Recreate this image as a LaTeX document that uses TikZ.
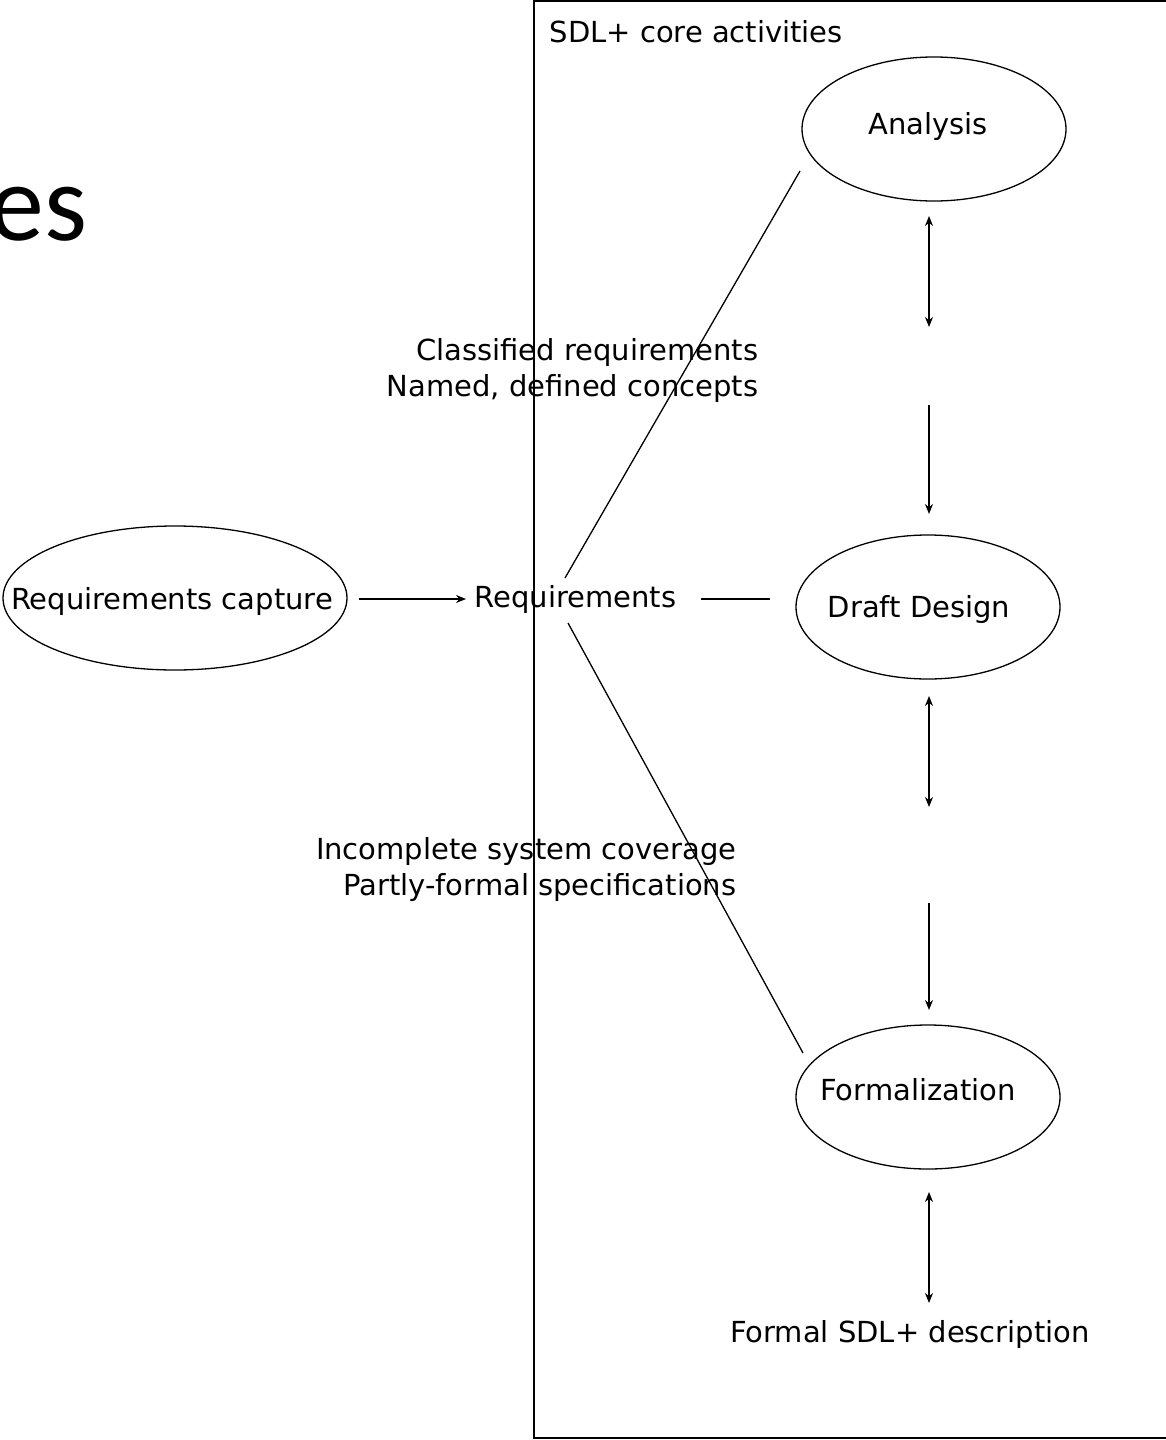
\documentclass[tikz,border=0pt]{standalone}
\usepackage{fontspec}
\setmainfont{DejaVu Sans}
\newfontfamily\titlefont{Carlito}
\usetikzlibrary{arrows.meta,shapes.geometric}
\begin{document}
\begin{tikzpicture}[x=1pt,y=-1pt,
  every path/.style={line width=1.3pt},
  lbl/.style={inner sep=0pt,font=\fontsize{29}{36}\selectfont},
  act/.style={draw,ellipse,inner sep=0pt,minimum width=264pt,minimum height=144pt},
  tip/.style={-{Stealth[length=10pt,width=8pt]}},
  dtip/.style={{Stealth[length=10pt,width=8pt]}-{Stealth[length=10pt,width=8pt]}}]
\useasboundingbox (0,0) rectangle (1166,1440);
\fill[white] (0,0) rectangle (1166,1440);

% partial slide title
\node[inner sep=0pt,anchor=base east,font=\titlefont\fontsize{110}{120}\selectfont] (title) at (88,240) {es};

% frame of the core activities
\draw (534,1) rectangle (1200,1438);
\node[lbl,anchor=base west] (core) at (549,42) {SDL+ core activities};

% activities
\node[act,minimum width=344pt] (capture) at (175,598) {};
\node[lbl,anchor=base] at (172,609) {Requirements capture};
\node[act] (analysis) at (934,129) {};
\node[lbl,anchor=base] at (928,134) {Analysis};
\node[act] (draft) at (928,607) {};
\node[lbl,anchor=base] at (919,617) {Draft Design};
\node[act] (formal) at (928,1097) {};
\node[lbl,anchor=base] at (918,1100) {Formalization};

% data items
\node[lbl,anchor=base west] (req) at (474,607) {Requirements};
\node[lbl,anchor=base east] (classified) at (759,360) {Classified requirements};
\node[lbl,anchor=base east] (named) at (759,396) {Named, defined concepts};
\node[lbl,anchor=base east] (incomplete) at (737,859) {Incomplete system coverage};
\node[lbl,anchor=base east] (partly) at (737,895) {Partly-formal specifications};
\node[lbl,anchor=base] (sdldesc) at (910,1342) {Formal SDL+ description};

% connector end points
\coordinate (capE) at (359,599);
\coordinate (reqW) at (466,599);
\coordinate (reqE) at (701,599);
\coordinate (draftW) at (770,599);
\coordinate (reqNE) at (565,578);
\coordinate (anaSW) at (800,171);
\coordinate (reqSE) at (568,623);
\coordinate (forSW) at (803,1053);
\coordinate (a1) at (929,216);
\coordinate (a2) at (929,327);
\coordinate (a3) at (929,405);
\coordinate (a4) at (929,514);
\coordinate (a5) at (929,696);
\coordinate (a6) at (929,807);
\coordinate (a7) at (929,903);
\coordinate (a8) at (929,1010);
\coordinate (a9) at (929,1192);
\coordinate (a10) at (929,1303);

\draw[tip] (capE) -- (reqW);
\draw (reqE) -- (draftW);
\draw (reqNE) -- (anaSW);
\draw (reqSE) -- (forSW);
\draw[dtip] (a1) -- (a2);
\draw[tip] (a3) -- (a4);
\draw[dtip] (a5) -- (a6);
\draw[tip] (a7) -- (a8);
\draw[dtip] (a9) -- (a10);
\end{tikzpicture}
\end{document}
